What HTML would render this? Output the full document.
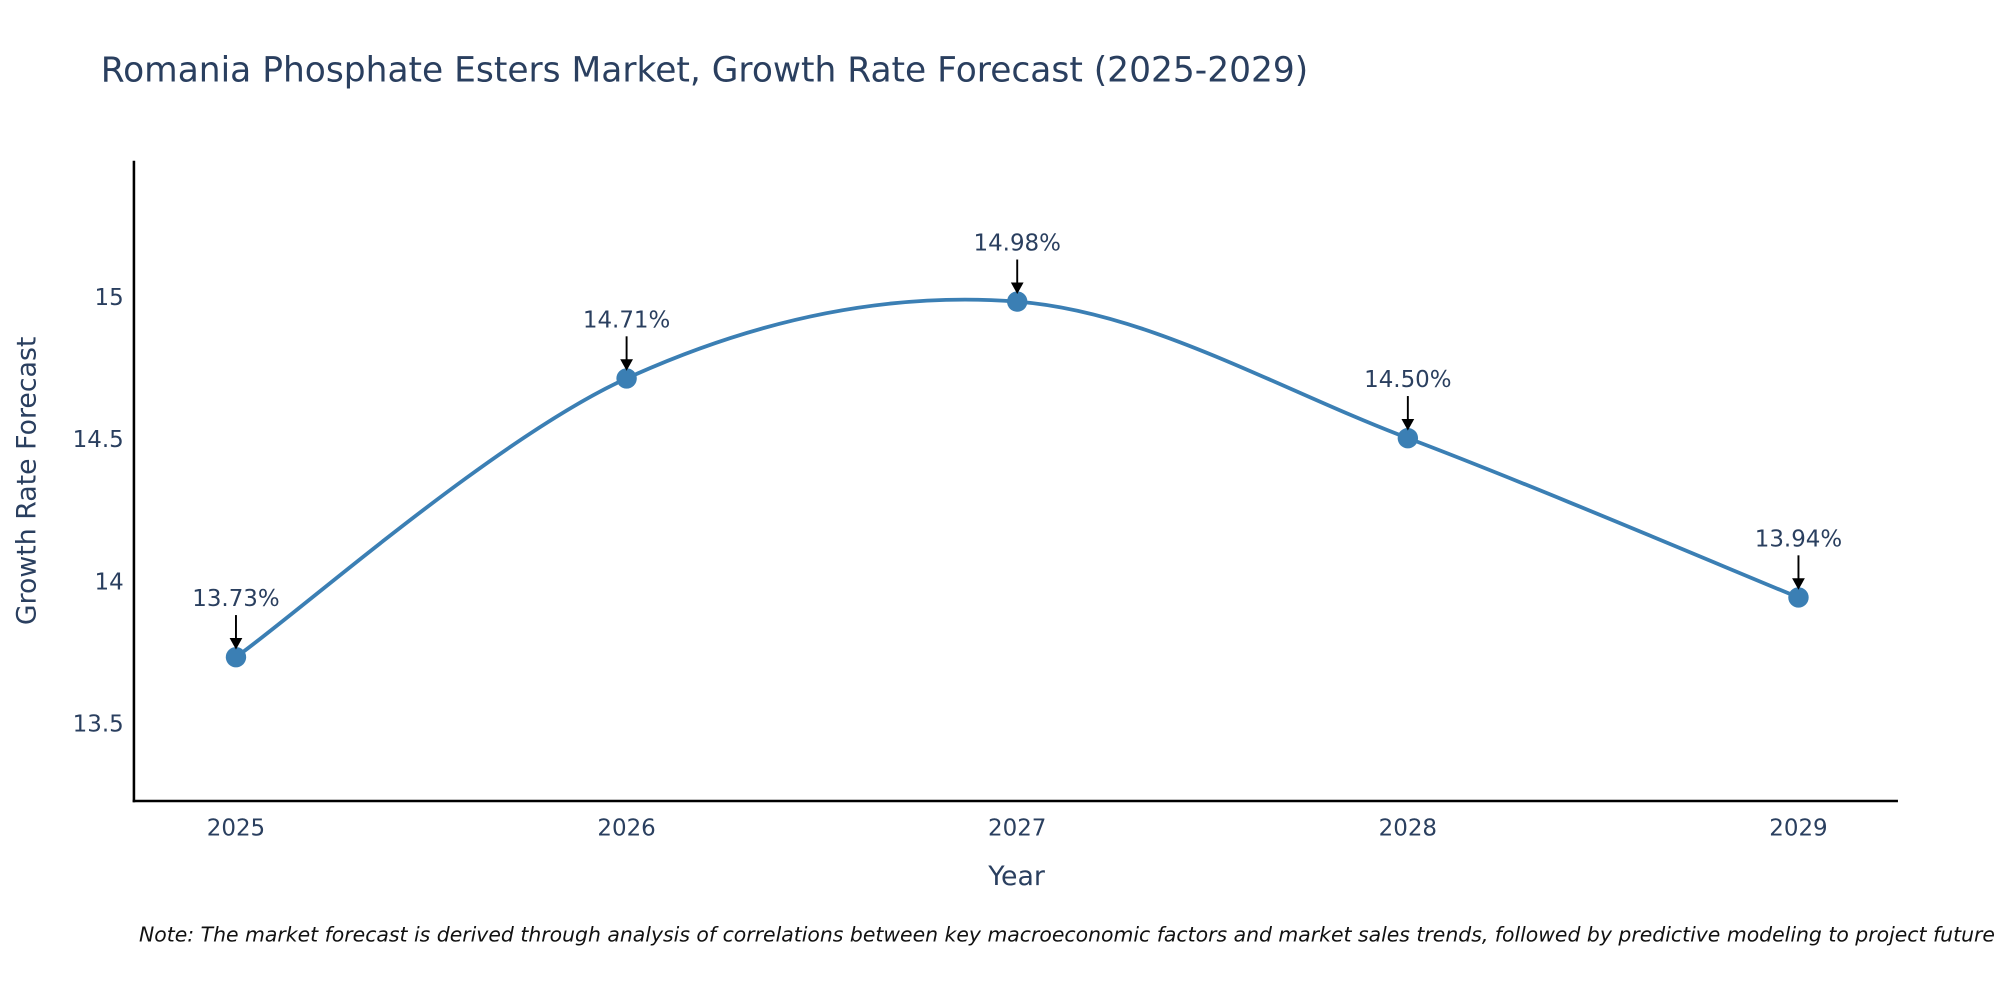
<!DOCTYPE html>
<html><head><meta charset="utf-8"><style>
html,body{margin:0;padding:0;background:#fff;}
svg{display:block;font-family:"DejaVu Sans","Liberation Sans",sans-serif;}
</style></head><body>
<svg id="chart" width="2000" height="1000" viewBox="0 0 1568 784" xmlns="http://www.w3.org/2000/svg">
<text x="79" y="64" font-size="27" fill="#2a3f5f">Romania Phosphate Esters Market, Growth Rate Forecast (2025-2029)</text>
<g id="yticks"></g><g id="xticks"></g>
<path id="line" fill="none" stroke="#3b7fb4" stroke-width="3"></path>
<g id="marks"></g>
<line x1="105" y1="126" x2="105" y2="629" stroke="#000" stroke-width="2"/>
<line x1="104" y1="628" x2="1488" y2="628" stroke="#000" stroke-width="2"/>
<text x="797" y="694" font-size="21" fill="#2a3f5f" text-anchor="middle">Year</text>
<text transform="translate(28,377) rotate(-90)" font-size="21" fill="#2a3f5f" text-anchor="middle">Growth Rate Forecast</text>
<text x="109" y="738" font-size="16" font-style="italic" fill="#111">Note: The market forecast is derived through analysis of correlations between key macroeconomic factors and market sales trends, followed by predictive modeling to project future sales.</text>
</svg>
<script>
const categories = ["2025","2026","2027","2028","2029"];
const values = [13.73, 14.71, 14.98, 14.50, 13.94];
const labels = ["13.73%","14.71%","14.98%","14.50%","13.94%"];
const yTicks = [13.5, 14, 14.5, 15];
const NS="http://www.w3.org/2000/svg";
function xPos(i){return 185 + i*306.25;}
function yPos(v){return 232 + (15 - v)*223;}
function mk(tag,attrs,parent){const e=document.createElementNS(NS,tag);for(const k in attrs)e.setAttribute(k,attrs[k]);parent.appendChild(e);return e;}
const yt=document.getElementById('yticks');
yTicks.forEach(v=>{const t=mk('text',{x:97,y:yPos(v)+7,'font-size':18,fill:'#2a3f5f','text-anchor':'end'},yt);


t.textContent=String(v);});
const xt=document.getElementById('xticks');
categories.forEach((c,i)=>{const t=mk('text',{x:xPos(i),y:655,'font-size':18,fill:'#2a3f5f','text-anchor':'middle'},xt);


t.textContent=c;});
const pts=values.map((v,i)=>[xPos(i),yPos(v)]);
let d='M'+pts[0][0]+','+pts[0][1];
for(let i=0;i<pts.length-1;i++){
 const p0=pts[Math.max(0,i-1)],p1=pts[i],p2=pts[i+1],p3=pts[Math.min(pts.length-1,i+2)];
 const s=1/6;
 const c1=[p1[0]+(p2[0]-p0[0])*s,p1[1]+(p2[1]-p0[1])*s];
 const c2=[p2[0]-(p3[0]-p1[0])*s,p2[1]-(p3[1]-p1[1])*s];
 d+=` C${c1[0]},${c1[1]} ${c2[0]},${c2[1]} ${p2[0]},${p2[1]}`;
}
document.getElementById('line').setAttribute('d',d);
const g=document.getElementById('marks');
pts.forEach((p,i)=>{
 const c=mk('circle',{cx:p[0],cy:p[1],r:8,fill:'#3b7fb4'},g);
 
 
 const l=mk('line',{x1:p[0],y1:p[1]-33,x2:p[0],y2:p[1]-14,stroke:'#000','stroke-width':1.5},g);
 
 
 const a=mk('path',{d:`M${p[0]-5},${p[1]-15} L${p[0]+5},${p[1]-15} L${p[0]},${p[1]-6} Z`,fill:'#000'},g);
 
 
 const t=mk('text',{x:p[0],y:p[1]-40,'font-size':18,fill:'#2a3f5f','text-anchor':'middle'},g);
 
 
 t.textContent=labels[i];
});
</script>
</body></html>
